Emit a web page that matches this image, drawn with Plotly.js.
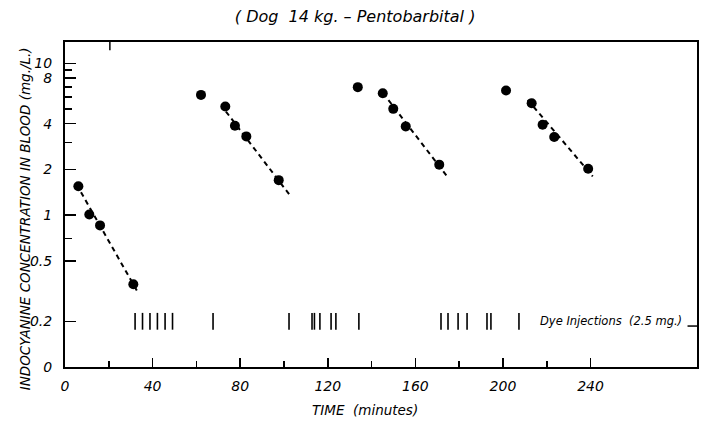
<!DOCTYPE html>
<html>
<head>
<meta charset="utf-8">
<script src="https://cdn.plot.ly/plotly-3.0.1.min.js"></script>
<style>html,body{margin:0;padding:0;background:#fff;}#chart{width:715px;height:421px;}</style>
</head>
<body>
<div id="chart"></div>
<script>
// ---- data ----
const timeS1 = [6.1, 11.1, 16.0, 31.2];
const concS1 = [1.55, 1.01, 0.856, 0.351];
const timeS2 = [62.1, 73.2, 77.6, 82.8, 97.6];
const concS2 = [6.19, 5.19, 3.88, 3.30, 1.70];
const timeS3 = [133.7, 145.1, 149.9, 155.6, 170.9];
const concS3 = [6.96, 6.35, 5.01, 3.84, 2.15];
const timeS4 = [201.4, 213.1, 218.1, 223.4, 238.9];
const concS4 = [6.61, 5.46, 3.94, 3.27, 2.02];

// dashed decay lines (start / end)
const fitT1 = [7.3, 33.5];   const fitC1 = [1.415, 0.306];
const fitT2 = [73.5, 102.4]; const fitC2 = [4.81, 1.37];
const fitT3 = [145.2, 175.0]; const fitC3 = [6.38, 1.76];
const fitT4 = [211.3, 241.0]; const fitC4 = [5.74, 1.80];

// dye injection times (minutes), plotted on the 0.2 line
const dyeTimes = [32.0, 35.4, 38.8, 42.2, 45.7, 49.1, 67.6,
                  102.3, 112.8, 113.9, 116.4, 121.5, 123.7, 134.2,
                  171.7, 174.9, 179.5, 183.6, 192.7, 194.5, 207.3];
const dyeLevel = 0.2;

// axis ticks
const xTickVals = [0, 40, 80, 120, 160, 200, 240];
const xMinorVals = [20, 60, 100, 140, 180, 220];
const yTickVals = [0.1, 0.2, 0.5, 1, 2, 4, 8, 10];
const yTickText = ["0", "0.2", "0.5", "1", "2", "4", "8", "10"];
const yMinorVals = [0.7, 3, 5, 6, 7, 9];

const FONT = "DejaVu Sans, sans-serif";
const ital = (size) => ({family: FONT, size: size, color: "#000", style: "italic"});

function pts(x, y) {
  return {x: x, y: y, type: "scatter", mode: "markers",
          marker: {color: "#000", size: 10, line: {width: 0}}, hoverinfo: "skip", showlegend: false};
}
function fit(x, y) {
  return {x: x, y: y, type: "scatter", mode: "lines",
          line: {color: "#000", width: 2, dash: "5px,4px"}, hoverinfo: "skip", showlegend: false};
}

const data = [
  fit(fitT1, fitC1), fit(fitT2, fitC2), fit(fitT3, fitC3), fit(fitT4, fitC4),
  pts(timeS1, concS1), pts(timeS2, concS2), pts(timeS3, concS3), pts(timeS4, concS4),
  {x: dyeTimes, y: dyeTimes.map(() => dyeLevel), type: "scatter", mode: "markers",
   marker: {symbol: "line-ns", size: 12, line: {color: "#000", width: 1.6}},
   hoverinfo: "skip", showlegend: false}
];

const layout = {
  width: 715, height: 421,
  margin: {l: 65, r: 18, t: 42, b: 54},
  paper_bgcolor: "#fff", plot_bgcolor: "#fff",
  showlegend: false,
  title: {text: "( Dog  14 kg. – Pentobarbital )", font: ital(16),
          x: 0.459, xref: "paper", xanchor: "center", y: 0.96, yanchor: "middle"},
  xaxis: {
    range: [0, 288.6], showgrid: false, zeroline: false,
    showline: true, linecolor: "#000", linewidth: 2, mirror: true,
    tickmode: "array", tickvals: xTickVals, ticktext: xTickVals.map(String),
    ticks: "inside", ticklen: 9, tickwidth: 1.5, tickcolor: "#000",
    tickfont: ital(14), ticklabelstandoff: 5,
    minor: {tickmode: "array", tickvals: xMinorVals, ticks: "inside", ticklen: 6, tickwidth: 1.5, tickcolor: "#000", showgrid: false}
  },
  yaxis: {
    type: "log", range: [-1, 1.14], showgrid: false, zeroline: false,
    showline: true, linecolor: "#000", linewidth: 2, mirror: true,
    tickmode: "array", tickvals: yTickVals, ticktext: yTickText,
    ticks: "inside", ticklen: 11, tickwidth: 1.5, tickcolor: "#000",
    tickfont: ital(14), ticklabelstandoff: 8,
    minor: {tickmode: "array", tickvals: yMinorVals, ticks: "inside", ticklen: 7, tickwidth: 1.5, tickcolor: "#000", showgrid: false}
  },
  shapes: [
    {type: "line", xref: "paper", yref: "paper", x0: 0.071, x1: 0.071, y0: 1, y1: 0.975,
     line: {color: "#000", width: 1.5}},
    {type: "line", xref: "paper", yref: "paper", x0: 0.985, x1: 1, y0: 0.126, y1: 0.126,
     line: {color: "#000", width: 1.5}}
  ],
  annotations: [
    {text: "INDOCYANINE CONCENTRATION IN BLOOD (mg./L.)", xref: "paper", yref: "paper",
     x: -0.063, y: 0.455, xanchor: "center", yanchor: "middle", textangle: -90,
     showarrow: false, font: ital(13.5)},
    {text: "TIME  (minutes)", xref: "paper", yref: "paper", x: 0.475, y: -0.132,
     xanchor: "center", yanchor: "middle", showarrow: false, font: ital(13.5)},
    {text: "Dye Injections  (2.5 mg.)", xref: "x", yref: "y", x: 216, y: Math.log10(dyeLevel),
     xanchor: "left", yanchor: "middle", showarrow: false, font: ital(11.5)}
  ]
};

Plotly.newPlot("chart", data, layout, {displayModeBar: false, staticPlot: true});
</script>
</body>
</html>
